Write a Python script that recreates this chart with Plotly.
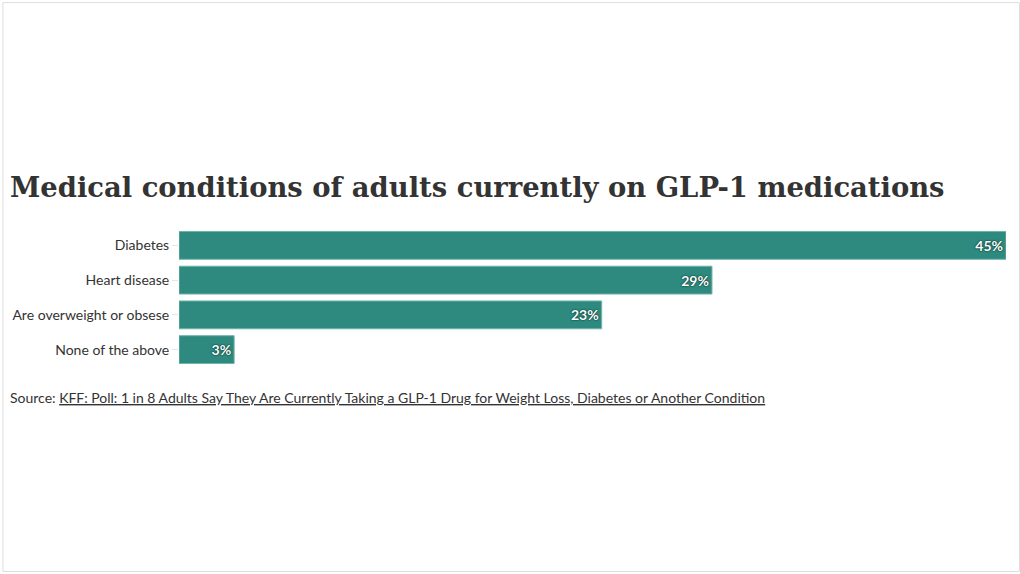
import plotly.graph_objects as go

categories = ["Diabetes", "Heart disease", "Are overweight or obsese", "None of the above"]
values = [45, 29, 23, 3]

BAR_COLOR = "#2e8a7e"

fig = go.Figure()
fig.add_trace(go.Bar(
    y=categories,
    x=values,
    orientation="h",
    marker=dict(color=BAR_COLOR, line=dict(color="#6fb3a9", width=1)),
    text=[f"{v}%" for v in values],
    textposition="inside",
    insidetextanchor="end",
    textfont=dict(family="Lato", size=14, color="white", weight="bold",
                  shadow="0px 0px 2px #08332d, 0px 0px 1px #08332d"),
    cliponaxis=False,
    hoverinfo="skip",
))

fig.update_layout(
    width=1020, height=574,
    paper_bgcolor="white", plot_bgcolor="white",
    margin=dict(l=177, r=14, t=227.5, b=206.5),
    bargap=0.2,
    showlegend=False,
    font=dict(family="Lato", color="#333333"),
    title=dict(
        text="<b>Medical conditions of adults currently on GLP-1 medications</b>",
        x=10 / 1020, xref="container", xanchor="left",
        y=1 - 187 / 574, yref="container", yanchor="middle",
        font=dict(family="DejaVu Serif", size=27.4, color="#333333"),
    ),
    xaxis=dict(range=[0, 45], visible=False, fixedrange=True),
    yaxis=dict(
        autorange="reversed", showgrid=False, zeroline=False, showline=False,
        ticks="outside", ticklen=6, tickcolor="#e6e6e6",
        tickfont=dict(family="Lato", size=14, color="#333333"),
        fixedrange=True,
    ),
    shapes=[dict(type="rect", xref="paper", yref="paper",
                 x0=-176.5 / 829, x1=1 + 13.5 / 829,
                 y0=-206 / 140, y1=1 + 227 / 140,
                 line=dict(color="#dddddd", width=1))],
    annotations=[dict(
        text="Source: <u>KFF: Poll: 1 in 8 Adults Say They Are Currently Taking a GLP-1 Drug "
             "for Weight Loss, Diabetes or Another Condition</u>",
        xref="paper", yref="paper", x=-171 / 829, y=-(398 - 367.5) / 140,
        xanchor="left", yanchor="middle", showarrow=False,
        font=dict(family="Lato", size=14, color="#333333"),
    )],
)

fig.write_html("out.html", config={"displayModeBar": False},
               post_script="document.body.style.margin='0';")
